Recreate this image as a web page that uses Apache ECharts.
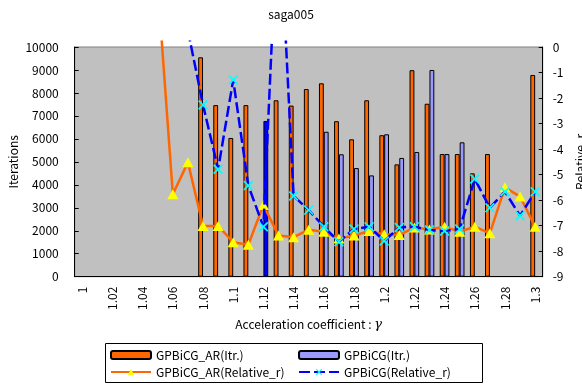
<!DOCTYPE html>
<html>
<head>
<meta charset="utf-8">
<script src="https://cdn.jsdelivr.net/npm/echarts@6/dist/echarts.min.js"></script>
<style>
  html, body { margin: 0; padding: 0; background: #ffffff; }
  #chart { width: 582px; height: 386px; }
</style>
</head>
<body>
<div id="chart"></div>
<script>
// Acceleration coefficient values (category axis)
const categories = ['1','1.01','1.02','1.03','1.04','1.05','1.06','1.07','1.08','1.09',
  '1.1','1.11','1.12','1.13','1.14','1.15','1.16','1.17','1.18','1.19',
  '1.2','1.21','1.22','1.23','1.24','1.25','1.26','1.27','1.28','1.29','1.3'];

// Iteration counts (left axis)
const itrAR = [null, null, null, null, null, null, null, null, 9550, 7470,
  6040, 7470, null, 7680, 7450, 8170, 8420, 6770, 5980, 7680,
  6160, 4890, 8990, 7530, 5340, 5340, 4500, 5340, null, null, 8780];
const itrGP = [null, null, null, null, null, null, null, null, null, null,
  null, null, 6780, null, null, null, 6310, 5330, 4730, 4410,
  6200, 5170, 5430, 9000, 5340, 5850, null, null, null, null, null];

// Relative residual, log scale (right axis)
const relAR = [null, null, null, null, null, 2.4, -5.77, -4.52, -7.01, -7.01,
  -7.65, -7.75, -6.19, -7.39, -7.45, -7.16, -7.24, -7.50, -7.39, -7.21,
  -7.34, -7.37, -7.07, -7.15, -7.04, -7.24, -7.04, -7.30, -5.50, -5.86, -7.04];
const relGP = [null, null, null, null, null, null, null, 0.64, -2.27, -4.79,
  -1.29, -5.43, -7.04, 6.0, -5.84, -6.39, -7.04, -7.63, -7.13, -7.04,
  -7.60, -7.07, -7.04, -7.17, -7.21, -7.13, -5.17, -6.30, -5.67, -6.61, -5.67];

// Axis ticks
const itrTicks = { min: 0, max: 10000, step: 1000 };
const relTicks = { min: -9, max: 0, step: 1 };

const FONT = 'Noto Sans CJK JP';
const plot = { left: 74.7, right: 39.3, top: 47, bottom: 109.3 };
const lineOverhang = 5.3;   // lines may run a little above the plot frame
const pxPerRel = (386 - plot.top - plot.bottom) / (relTicks.max - relTicks.min);

const xMark = 'path://M0,1.2 L1.2,0 L5,3.8 L8.8,0 L10,1.2 L6.2,5 L10,8.8 L8.8,10 L5,6.2 L1.2,10 L0,8.8 L3.8,5 Z';

// Bar data: one point of the GPBiCG series is drawn in solid blue
const gpBarData = itrGP.map((v, i) => (i === 12 && v != null)
  ? { value: v, itemStyle: { color: '#0000FF' } } : v);

const chart = echarts.init(document.getElementById('chart'), null, { renderer: 'canvas' });

const option = {
  backgroundColor: '#ffffff',
  animation: false,
  textStyle: { fontFamily: FONT, color: '#000' },
  title: {
    text: 'saga005', left: 'center', top: 3,
    textStyle: { fontFamily: FONT, fontSize: 12, fontWeight: 'normal', color: '#000' }
  },
  grid: [
    { left: plot.left, right: plot.right, top: plot.top, bottom: plot.bottom,
      outerBoundsMode: 'none', containLabel: false,
      show: true, backgroundColor: '#C0C0C0', borderColor: '#808080', borderWidth: 1 },
    { left: plot.left, right: plot.right, top: plot.top - lineOverhang, bottom: plot.bottom,
      outerBoundsMode: 'none', containLabel: false, show: false }
  ],
  xAxis: [
    { type: 'category', gridIndex: 0, data: categories, boundaryGap: true,
      axisLine: { lineStyle: { color: '#000', width: 1 } },
      axisTick: { inside: true, length: 4, interval: 0, lineStyle: { color: '#000' } },
      axisLabel: { interval: 1, rotate: 90, margin: 10, fontSize: 12, color: '#000', fontFamily: FONT },
      name: 'Acceleration coefficient : {g|γ}',
      nameLocation: 'middle', nameGap: 40,
      nameTextStyle: { fontSize: 12, color: '#000', fontFamily: FONT,
        rich: { g: { fontSize: 13, fontStyle: 'italic', fontFamily: 'DejaVu Serif', color: '#000' } } }
    },
    { type: 'category', gridIndex: 1, data: categories, boundaryGap: true, show: false }
  ],
  yAxis: [
    { type: 'value', gridIndex: 0, position: 'left',
      min: itrTicks.min, max: itrTicks.max, interval: itrTicks.step,
      splitLine: { show: false },
      axisLine: { show: true, lineStyle: { color: '#000' } },
      axisTick: { show: true, inside: true, length: 4, lineStyle: { color: '#000' } },
      axisLabel: { margin: 16, fontSize: 12, color: '#000', fontFamily: FONT,
        formatter: v => String(v) },
      name: 'Iterations', nameLocation: 'middle', nameGap: 55, nameRotate: 90,
      nameMoveOverlap: false,
      nameTextStyle: { fontSize: 12, color: '#000', fontFamily: FONT }
    },
    { type: 'value', gridIndex: 0, position: 'right',
      min: relTicks.min, max: relTicks.max, interval: relTicks.step,
      splitLine: { show: false },
      axisLine: { show: true, lineStyle: { color: '#000' } },
      axisTick: { show: true, inside: true, length: 4, lineStyle: { color: '#000' } },
      axisLabel: { margin: 10, fontSize: 12, color: '#000', fontFamily: FONT,
        formatter: v => String(v) },
      name: 'Relative_r', nameLocation: 'middle', nameGap: 30, nameRotate: 90,
      nameTextStyle: { fontSize: 12, color: '#000', fontFamily: FONT }
    },
    // same scale as the right axis, extended slightly above the frame for the lines
    { type: 'value', gridIndex: 1, show: false,
      min: relTicks.min, max: relTicks.max + lineOverhang / pxPerRel,
      splitLine: { show: false } }
  ],
  legend: [
    { orient: 'vertical', left: 110, top: 348, padding: 0, itemGap: 3,
      itemWidth: 40, itemHeight: 8,
      textStyle: { fontSize: 12, color: '#000', fontFamily: FONT, lineHeight: 14 },
      data: ['GPBiCG_AR(Itr.)', 'GPBiCG_AR(Relative_r)'] },
    { orient: 'vertical', left: 298, top: 348, padding: 0, itemGap: 3,
      itemWidth: 40, itemHeight: 8,
      textStyle: { fontSize: 12, color: '#000', fontFamily: FONT, lineHeight: 14 },
      data: ['GPBiCG(Itr.)', 'GPBiCG(Relative_r)'] }
  ],
  graphic: [
    { type: 'rect', z: -1, silent: true,
      shape: { x: 105.5, y: 343.5, width: 377, height: 39 },
      style: { fill: '#ffffff', stroke: '#000', lineWidth: 1 } }
  ],
  series: [
    { name: 'GPBiCG_AR(Itr.)', type: 'bar', xAxisIndex: 0, yAxisIndex: 0,
      data: itrAR, barGap: '0%', barCategoryGap: '36%',
      itemStyle: { color: '#FF6600', borderColor: '#000', borderWidth: 1 } },
    { name: 'GPBiCG(Itr.)', type: 'bar', xAxisIndex: 0, yAxisIndex: 0,
      data: gpBarData, barGap: '0%', barCategoryGap: '36%',
      itemStyle: { color: '#9999FF', borderColor: '#000', borderWidth: 1 } },
    { name: 'GPBiCG_AR(Relative_r)', type: 'line', xAxisIndex: 1, yAxisIndex: 2,
      data: relAR, clip: true, z: 3,
      lineStyle: { color: '#FF6600', width: 2.5 },
      itemStyle: { color: '#FFFF00', borderWidth: 0 },
      symbol: 'triangle', symbolSize: [11, 10], showAllSymbol: true },
    { name: 'GPBiCG(Relative_r)', type: 'line', xAxisIndex: 1, yAxisIndex: 2,
      data: relGP, clip: true, z: 4,
      lineStyle: { color: '#0000FF', width: 2.5, type: [11, 4] },
      itemStyle: { color: '#00FFFF', borderWidth: 0 },
      symbol: xMark, symbolSize: 10, showAllSymbol: true }
  ]
};

chart.setOption(option);
</script>
</body>
</html>
